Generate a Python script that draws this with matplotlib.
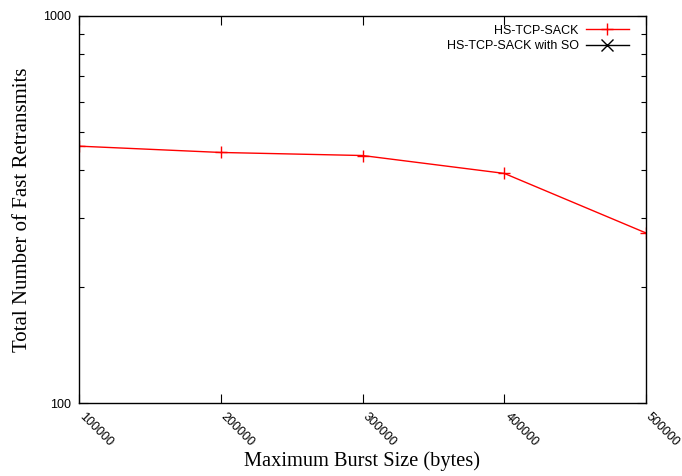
import numpy as np
import matplotlib.pyplot as plt
from matplotlib.ticker import LogLocator, NullFormatter, FixedLocator

burst_size = [100000, 200000, 300000, 400000, 500000]
fast_retx = [461, 444, 436, 392, 275]
# second series has no points inside the plotted range
fast_retx_so_x = []
fast_retx_so = []

fig = plt.figure(figsize=(6.82, 4.76), dpi=100)
ax = fig.add_axes([79 / 682, 1 - 403 / 476, (646 - 79) / 682, (403 - 16) / 476])

ax.plot(burst_size, fast_retx, color="red", linewidth=1.0, marker="+",
        markersize=9, markeredgewidth=1.0, label="HS-TCP-SACK")
ax.plot(fast_retx_so_x, fast_retx_so, color="black", linewidth=1.0, marker="x",
        markersize=8, markeredgewidth=1.0, label="HS-TCP-SACK with SO")

ax.set_yscale("log")
ax.set_xlim(100000, 500000)
ax.set_ylim(100, 1000)

ax.xaxis.set_major_locator(FixedLocator(burst_size))
ax.set_xticklabels([str(v) for v in burst_size], rotation=-45, ha="left",
                   va="baseline", rotation_mode="anchor",
                   fontsize=9, family="Liberation Sans")
ax.yaxis.set_major_locator(FixedLocator([100, 1000]))
ax.yaxis.set_major_formatter(plt.FuncFormatter(lambda v, p: "%d" % v))
ax.yaxis.set_minor_locator(LogLocator(base=10, subs=np.arange(2, 10)))
ax.yaxis.set_minor_formatter(NullFormatter())
for lbl in ax.get_yticklabels():
    lbl.set_fontsize(9)
    lbl.set_family("Liberation Sans")

ax.tick_params(which="both", direction="in", top=True, right=True, width=0.8)
ax.tick_params(which="major", length=6.5)
ax.tick_params(which="minor", length=3.5)
ax.tick_params(axis="x", pad=10)
ax.tick_params(axis="y", pad=6)
for s in ax.spines.values():
    s.set_linewidth(1.0)

ax.set_xlabel("Maximum Burst Size (bytes)", family="Liberation Serif", fontsize=14.7,
              labelpad=2)
ax.set_ylabel("Total Number of Fast Retransmits", family="Liberation Serif",
              fontsize=15, labelpad=7.5)

leg = ax.legend(loc="upper right", bbox_to_anchor=(0.985, 1.0), frameon=False,
                markerfirst=False, handlelength=3.4, handletextpad=0.6,
                labelspacing=0.25, borderaxespad=0.3,
                prop={"family": "Liberation Sans", "size": 9})

fig.savefig("out.png", dpi=100)
